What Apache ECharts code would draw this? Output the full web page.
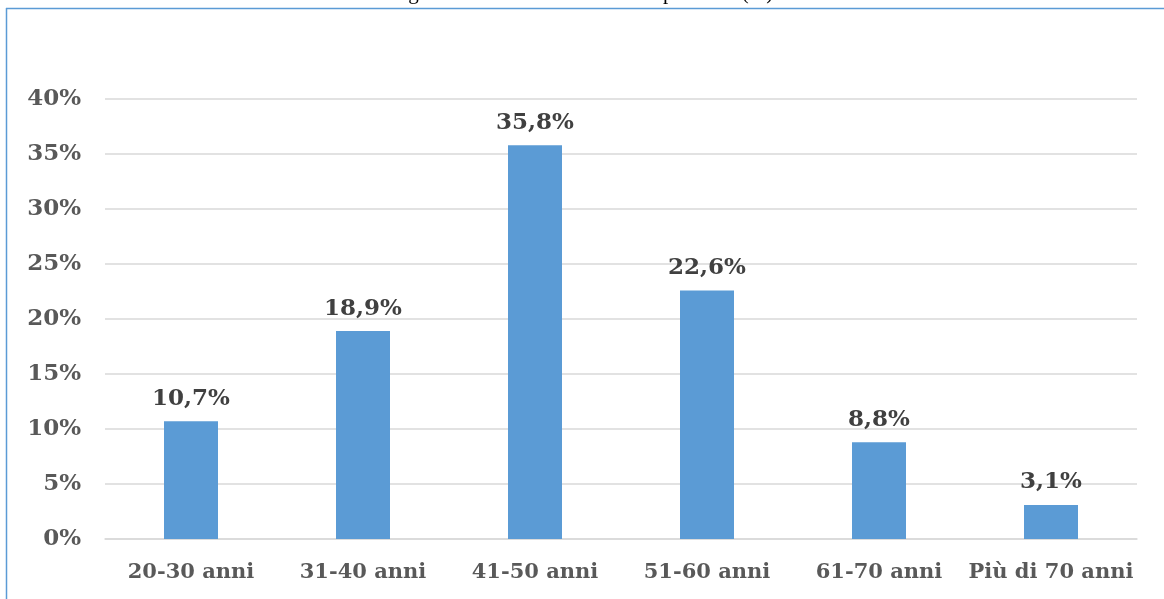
<!DOCTYPE html>
<html><head><meta charset="utf-8">
<script src="https://cdn.jsdelivr.net/npm/echarts@6/dist/echarts.min.js"></script>
<style>html,body{margin:0;padding:0;background:#fff}#c{width:1164px;height:599px}</style>
</head><body><div id="c"></div>
<script>
const categories = ['20-30 anni','31-40 anni','41-50 anni','51-60 anni','61-70 anni','Più di 70 anni'];
const values = [10.7, 18.9, 35.8, 22.6, 8.8, 3.1];
const titleText = 'Figura 1.5 – Fascia d\u2019età dei Rispondenti (%)';
const FONT = '"DejaVu Serif", "Liberation Serif", serif';
const chart = echarts.init(document.getElementById('c'));
chart.setOption({
  animation: false,
  grid: {left: 105, right: 27, top: 99, bottom: 60, containLabel: false},
  graphic: [
    {type:'text', left: 'center', top: -17, style:{text: titleText, font: '21px "Liberation Serif", serif', fill:'#000'}},
    {type:'line', shape:{x1:6, y1:8.5, x2:1164, y2:8.5}, style:{stroke:'#5b9bd5', lineWidth:1.5}},
    {type:'line', shape:{x1:6.5, y1:8, x2:6.5, y2:599}, style:{stroke:'#5b9bd5', lineWidth:1.5}}
  ],
  xAxis: {
    type:'category', data: categories,
    axisLine:{lineStyle:{color:'#d9d9d9', width:1.5}}, axisTick:{show:false},
    axisLabel:{interval:0, color:'#595959', fontFamily: FONT, fontWeight:'bold', fontSize:21, margin:23}
  },
  yAxis: {
    type:'value', min:0, max:40, interval:5,
    axisLine:{show:false}, axisTick:{show:false},
    splitLine:{lineStyle:{color:'#d9d9d9', width:1.5}},
    axisLabel:{formatter: v => v + '%', color:'#595959', fontFamily: FONT, fontWeight:'bold', fontSize:23, margin:24}
  },
  series: [{
    type:'bar', data: values, barWidth: 54,
    itemStyle:{color:'#5b9bd5'},
    label:{show:true, position:'top', distance:11, formatter: p => p.value.toFixed(1).replace('.', ',') + '%',
      color:'#404040', fontFamily: FONT, fontWeight:'bold', fontSize:23}
  }]
});
</script></body></html>
